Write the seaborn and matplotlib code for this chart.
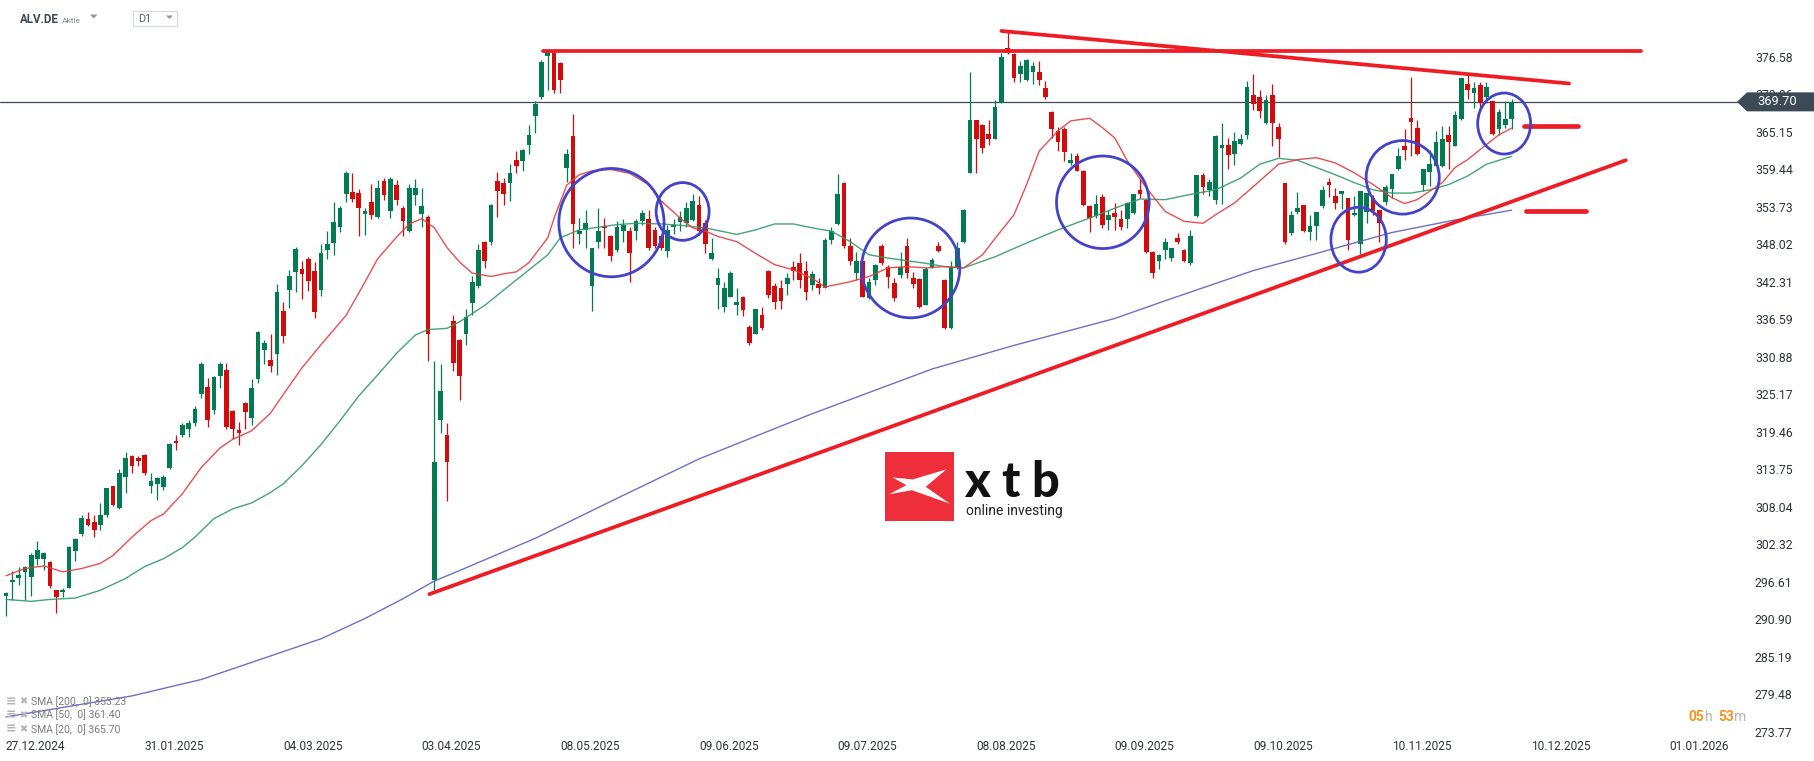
import numpy as np
import pandas as pd
import seaborn as sns
import matplotlib.pyplot as plt
from matplotlib.patches import Ellipse, Polygon, Rectangle
from matplotlib.transforms import IdentityTransform

# =============================================================================
# DATA  (ALV.DE daily candles, 27.12.2024 - 05.12.2025)
# =============================================================================
opens = [294.4, 296.5, 297.1, 298.0, 297.3, 300.0, 300.0, 299.6, 295.3, 295.0,
         295.7, 301.3, 303.8, 306.1, 305.7, 305.3, 306.8, 311.1, 307.8, 312.6,
         315.7, 315.5, 315.9, 311.2, 311.5, 311.0, 313.9, 318.1, 318.9, 319.8,
         320.7, 325.2, 326.3, 322.7, 328.0, 328.8, 322.6, 319.7, 323.8, 321.6,
         327.5, 331.9, 330.4, 331.3, 337.8, 341.0, 343.8, 344.3, 345.7, 344.0,
         341.0, 347.1, 348.2, 350.6, 355.7, 356.0, 355.8, 352.6, 354.5, 352.2,
         357.7, 353.1, 357.0, 353.6, 350.1, 355.5, 352.6, 352.2, 296.8, 321.2,
         318.9, 336.3, 333.4, 334.4, 339.0, 341.6, 348.3, 348.3, 357.7, 357.4,
         357.4, 360.9, 360.7, 363.2, 367.5, 370.5, 376.7, 377.2, 375.6, 359.6,
         364.5, 349.6, 350.2, 341.6, 348.3, 350.8, 349.3, 347.2, 350.1, 350.1,
         350.1, 351.5, 351.9, 350.2, 349.2, 347.0, 350.6, 351.4, 351.2, 351.7,
         354.0, 351.2, 345.7, 341.8, 338.5, 340.0, 338.8, 340.0, 335.4, 334.4,
         337.2, 344.0, 341.7, 341.4, 341.9, 344.5, 345.1, 344.0, 341.8, 342.0,
         341.4, 348.6, 351.1, 357.4, 347.7, 343.6, 345.4, 339.8, 342.6, 347.7,
         344.6, 342.1, 343.3, 347.7, 342.9, 342.7, 338.8, 344.6, 347.7, 342.6,
         335.2, 344.6, 348.4, 358.9, 366.9, 366.2, 364.8, 364.1, 369.6, 377.9,
         377.0, 374.0, 373.0, 374.2, 374.2, 371.8, 368.2, 365.3, 365.5, 360.4,
         361.4, 359.2, 353.8, 352.3, 355.2, 351.7, 352.8, 351.9, 351.9, 352.8,
         356.3, 354.8, 346.9, 345.4, 347.2, 345.9, 349.0, 347.2, 345.1, 352.3,
         358.5, 356.3, 354.7, 362.7, 363.1, 361.8, 363.3, 364.7, 370.8, 370.5,
         366.5, 370.7, 365.9, 357.3, 349.7, 352.9, 354.0, 349.9, 350.8, 353.8,
         357.5, 355.3, 355.6, 355.1, 352.4, 348.0, 352.9, 355.1, 353.2, 354.4,
         356.5, 359.4, 362.9, 367.2, 365.7, 357.1, 359.0, 360.0, 360.0, 364.6,
         362.9, 367.1, 372.4, 371.0, 372.3, 370.4, 369.8, 365.6, 366.2, 367.1]
highs = [295.0, 298.2, 298.9, 299.0, 301.0, 302.8, 301.1, 299.8, 295.4, 295.6,
         302.0, 303.2, 306.8, 307.2, 306.8, 308.6, 310.9, 311.2, 313.7, 316.3,
         315.9, 315.8, 316.0, 313.2, 312.5, 312.9, 317.7, 319.0, 320.7, 321.2,
         323.4, 330.1, 327.6, 328.0, 330.0, 329.9, 322.8, 320.9, 324.0, 327.5,
         334.8, 333.4, 334.4, 341.9, 339.2, 344.1, 347.6, 345.5, 346.0, 345.3,
         348.1, 350.0, 354.5, 353.8, 359.1, 358.9, 356.4, 353.6, 357.2, 357.8,
         358.1, 358.2, 357.8, 353.8, 357.2, 357.9, 356.6, 352.4, 330.2, 329.7,
         320.8, 337.2, 333.6, 338.2, 343.1, 348.0, 348.5, 354.2, 359.0, 358.1,
         360.2, 362.2, 362.5, 366.1, 369.8, 376.1, 377.6, 377.3, 375.7, 362.5,
         367.9, 352.0, 353.3, 347.5, 353.5, 352.0, 349.4, 351.5, 351.8, 350.7,
         351.8, 353.2, 353.3, 350.7, 349.3, 351.0, 351.8, 353.0, 354.5, 355.6,
         355.3, 351.7, 349.0, 344.4, 342.3, 343.9, 341.3, 340.1, 335.7, 338.2,
         338.5, 344.1, 342.1, 342.6, 343.6, 345.4, 346.7, 345.4, 343.9, 342.8,
         349.0, 350.7, 358.7, 357.5, 349.0, 346.9, 345.5, 342.8, 345.0, 348.0,
         344.9, 342.8, 346.8, 348.9, 343.8, 342.9, 344.6, 345.9, 348.3, 342.7,
         345.5, 348.4, 353.4, 374.2, 367.0, 366.3, 366.9, 370.0, 377.2, 380.6,
         377.1, 376.0, 376.3, 375.7, 375.9, 372.9, 368.3, 365.8, 365.8, 361.9,
         361.9, 359.3, 354.0, 355.5, 355.6, 353.3, 354.3, 353.3, 354.4, 355.7,
         357.9, 354.9, 347.0, 346.5, 348.9, 347.5, 349.7, 347.3, 350.2, 358.6,
         358.9, 357.9, 364.6, 366.5, 364.2, 365.1, 364.8, 372.9, 373.9, 371.5,
         370.8, 372.4, 366.5, 357.3, 353.0, 355.9, 354.0, 352.4, 352.9, 356.9,
         358.1, 356.6, 356.1, 355.1, 355.3, 356.1, 355.8, 355.5, 353.3, 357.0,
         358.7, 362.7, 365.6, 373.5, 367.0, 359.5, 362.4, 365.2, 366.0, 366.0,
         368.3, 373.4, 373.8, 372.7, 372.8, 372.8, 369.8, 368.6, 369.8, 370.1]
lows = [291.3, 293.8, 296.1, 293.8, 294.4, 299.2, 298.4, 295.7, 291.9, 294.2,
        295.6, 299.8, 303.6, 305.1, 303.4, 304.4, 306.4, 308.1, 307.7, 310.1,
        313.1, 314.2, 312.9, 310.1, 309.0, 310.6, 313.8, 316.6, 318.6, 318.7,
        320.3, 324.6, 320.2, 322.2, 326.1, 319.8, 318.4, 317.4, 319.9, 320.4,
        326.8, 329.8, 328.6, 328.1, 332.9, 338.3, 340.8, 339.7, 340.9, 336.7,
        340.1, 345.7, 346.3, 349.8, 354.4, 354.5, 349.3, 349.4, 351.9, 352.0,
        354.7, 352.0, 354.0, 349.3, 349.9, 354.0, 350.6, 330.2, 295.3, 319.3,
        308.9, 328.7, 324.3, 332.7, 337.2, 341.3, 344.4, 347.9, 352.2, 354.0,
        354.6, 358.9, 359.2, 361.7, 364.9, 370.2, 371.5, 371.1, 371.0, 357.5,
        347.4, 348.0, 347.4, 337.8, 347.5, 347.5, 345.5, 346.9, 348.4, 342.2,
        348.7, 351.0, 347.2, 347.4, 347.2, 346.0, 349.5, 350.0, 350.6, 351.6,
        349.4, 346.6, 345.6, 338.2, 337.7, 340.0, 337.2, 337.1, 332.6, 334.4,
        335.0, 339.8, 338.2, 338.2, 340.3, 342.6, 341.4, 339.5, 341.0, 340.5,
        341.4, 348.0, 351.0, 347.4, 344.9, 342.6, 339.9, 339.7, 341.8, 344.8,
        341.3, 339.3, 342.8, 342.9, 341.3, 338.3, 338.7, 344.4, 346.9, 335.1,
        335.1, 344.3, 348.2, 358.8, 358.9, 361.9, 363.1, 364.0, 369.5, 377.0,
        372.7, 372.7, 372.9, 372.4, 372.3, 370.1, 364.2, 362.2, 360.7, 360.1,
        359.1, 353.8, 349.9, 352.0, 350.5, 350.2, 350.2, 350.2, 350.5, 352.6,
        355.1, 346.6, 342.8, 344.3, 345.8, 345.4, 348.1, 345.3, 344.9, 352.2,
        355.6, 355.3, 354.2, 354.2, 359.4, 360.1, 363.2, 364.1, 368.5, 367.2,
        366.4, 363.0, 361.3, 348.1, 349.4, 352.6, 349.9, 348.6, 348.6, 353.6,
        355.2, 353.4, 353.4, 347.2, 352.3, 346.5, 351.3, 352.5, 348.4, 354.0,
        355.1, 359.3, 360.9, 361.4, 361.6, 356.1, 356.9, 359.9, 359.7, 359.4,
        362.9, 367.0, 370.1, 368.8, 368.5, 369.5, 364.7, 364.7, 365.7, 365.6]
closes = [294.8, 296.9, 297.6, 298.9, 300.7, 301.5, 300.9, 296.0, 294.3, 295.4,
          301.9, 303.1, 306.3, 305.3, 304.4, 306.8, 310.8, 308.3, 313.2, 315.4,
          314.2, 315.0, 313.2, 311.9, 312.4, 312.6, 317.6, 317.7, 320.4, 320.7,
          322.9, 329.8, 321.3, 327.8, 329.8, 320.2, 319.8, 319.3, 322.5, 326.1,
          334.6, 332.9, 329.4, 340.8, 334.0, 343.1, 347.3, 343.4, 342.4, 337.7,
          346.7, 348.1, 351.4, 353.6, 358.9, 354.9, 353.6, 353.0, 352.4, 356.6,
          355.5, 357.9, 354.7, 351.6, 356.6, 356.6, 353.9, 334.4, 314.9, 325.6,
          314.9, 329.9, 328.0, 336.9, 342.3, 347.1, 345.5, 354.0, 356.1, 355.7,
          358.9, 359.9, 362.3, 364.7, 369.3, 375.7, 377.5, 371.5, 373.0, 361.7,
          351.1, 350.0, 351.2, 347.5, 350.1, 350.5, 346.2, 350.7, 351.0, 346.6,
          351.5, 352.8, 347.5, 347.7, 347.4, 350.2, 351.0, 352.2, 353.6, 354.6,
          350.1, 348.1, 346.6, 342.8, 341.3, 343.7, 339.2, 338.0, 332.9, 338.1,
          335.3, 340.3, 339.2, 339.4, 342.8, 343.9, 342.6, 340.8, 343.5, 341.4,
          348.7, 350.1, 355.6, 347.7, 345.5, 345.5, 340.0, 342.3, 344.9, 345.1,
          343.0, 339.8, 344.6, 343.6, 342.0, 338.5, 344.2, 345.6, 347.0, 335.2,
          344.6, 347.4, 353.3, 366.9, 364.1, 362.7, 364.0, 368.9, 376.5, 377.2,
          373.3, 375.1, 376.1, 375.2, 373.0, 370.5, 365.5, 363.6, 362.1, 360.9,
          359.2, 354.0, 352.0, 354.1, 350.9, 352.5, 352.1, 350.7, 354.3, 355.6,
          355.6, 346.9, 343.7, 346.4, 348.4, 347.4, 348.4, 345.4, 349.2, 358.5,
          356.7, 357.5, 364.5, 363.1, 361.6, 363.8, 364.0, 372.0, 369.3, 368.3,
          370.0, 366.5, 364.1, 348.3, 352.5, 353.6, 350.1, 350.8, 352.9, 356.2,
          357.0, 354.3, 356.1, 348.6, 352.8, 356.1, 355.8, 353.1, 351.2, 356.8,
          358.7, 361.4, 362.3, 366.7, 361.7, 359.4, 360.3, 363.6, 364.1, 363.6,
          367.7, 373.3, 371.5, 371.8, 369.5, 371.9, 364.8, 368.2, 367.1, 369.7]

# moving averages (candle index, value)
sma20_x = [0, 3, 6, 9, 12, 15, 17, 20, 23, 25, 28, 31, 34, 36, 39, 42, 44, 47, 50, 54,
           57, 59, 62, 64, 66, 68, 70, 72, 74, 77, 79, 81, 83, 86, 87, 89, 91, 93, 96, 99,
           102, 104, 107, 109, 111, 113, 116, 119, 122, 125, 128, 130, 134, 137, 140, 143,
           146, 149, 152, 155, 157, 160, 162, 164, 167, 169, 172, 174, 176, 178, 181, 184,
           187, 190, 192, 195, 198, 202, 205, 208, 211, 214, 217, 220, 222, 224, 226, 228,
           230, 232, 235, 237, 239]
sma20_v = [297.5, 298.6, 299.0, 298.1, 298.6, 299.4, 300.6, 303.4, 305.9, 306.9,
           310.0, 314.0, 317.0, 318.3, 319.6, 322.3, 325.1, 329.2, 332.7, 337.2,
           342.3, 345.8, 349.1, 351.1, 351.9, 350.5, 347.5, 345.3, 343.6, 343.1,
           343.5, 343.8, 345.2, 349.0, 352.0, 357.0, 358.6, 359.2, 359.4, 358.8,
           357.1, 354.6, 352.0, 350.5, 350.0, 349.2, 348.4, 346.6, 344.9, 344.1,
           342.8, 341.5, 342.3, 343.1, 344.4, 344.6, 344.4, 344.6, 344.4, 346.4,
           348.9, 352.5, 357.1, 362.2, 365.3, 366.8, 367.2, 365.8, 364.2, 360.7,
           356.6, 353.0, 351.5, 351.2, 352.5, 354.3, 356.8, 360.2, 360.9, 361.2,
           360.4, 358.9, 357.1, 355.1, 354.2, 354.8, 356.1, 357.4, 359.7, 360.9,
           363.2, 364.7, 365.7]
sma50_x = [0, 4, 7, 11, 13, 15, 19, 22, 25, 28, 30, 33, 36, 39, 42, 44, 47, 50, 53, 56,
           59, 62, 65, 67, 70, 72, 76, 80, 83, 86, 88, 91, 94, 97, 100, 104, 107, 111, 113,
           116, 119, 122, 125, 128, 131, 134, 137, 140, 143, 146, 149, 152, 157, 162, 167,
           172, 176, 180, 184, 188, 192, 196, 199, 202, 205, 208, 211, 214, 217, 220, 223,
           226, 229, 232, 235, 239]
sma50_v = [293.9, 293.6, 293.9, 294.1, 294.7, 295.3, 297.1, 298.9, 300.1, 301.8,
           303.4, 306.2, 307.7, 308.6, 310.2, 311.5, 314.3, 317.5, 321.1, 324.9,
           328.1, 331.4, 334.2, 335.0, 335.2, 336.2, 338.7, 341.8, 344.1, 346.4,
           349.0, 350.2, 350.6, 351.0, 351.2, 351.1, 350.9, 350.5, 350.1, 349.5,
           350.2, 351.1, 351.1, 350.5, 350.0, 348.4, 346.4, 345.9, 345.5, 345.1,
           344.6, 344.4, 346.1, 348.2, 350.2, 352.0, 353.5, 354.9, 354.8, 355.6,
           356.3, 358.1, 360.2, 361.1, 360.8, 359.7, 358.6, 357.4, 356.3, 355.8,
           355.8, 356.3, 357.1, 358.4, 360.2, 361.4]
sma200_x = [0, 20, 31, 50, 57, 63, 68, 72, 84, 97, 110, 123, 128, 147, 160, 176, 184,
            198, 208, 220, 230, 239]
sma200_v = [276.0, 279.2, 281.7, 287.9, 291.0, 294.0, 296.7, 298.3, 303.2, 309.3,
            315.3, 320.3, 322.2, 329.0, 332.6, 336.7, 339.4, 344.0, 346.6, 349.8,
            351.7, 353.2]

# drawn analysis: trend lines (x0, y0, x1, y1) and marked areas
resistance = [85.2, 377.45, 259.5, 377.45]
falling = [158.0, 380.5, 248.1, 372.5]
rising = [67.2, 294.7, 257.1, 360.8]
level_up = [241.0, 366.0, 249.5, 366.0]
level_dn = [241.3, 353.1, 250.8, 353.1]
circle_x = [96.1, 107.4, 143.6, 174.1, 214.7, 221.7, 237.8]
circle_y = [351.3, 353.0, 344.4, 354.4, 348.7, 358.2, 366.4]
circle_w = [16.7, 8.4, 15.6, 14.7, 8.8, 11.6, 8.4]
circle_h = [16.5, 8.8, 15.2, 14.1, 9.9, 11.2, 9.3]

last_price = 369.70
y_ticks = [376.58, 370.86, 365.15, 359.44, 353.73, 348.02, 342.31, 336.59, 330.88,
           325.17, 319.46, 313.75, 308.04, 302.32, 296.61, 290.90, 285.19, 279.48, 273.77]
date_pos = [0, 22, 44, 66, 88, 110, 132, 154, 176, 198, 220, 242, 264]
date_labels = ['27.12.2024', '31.01.2025', '04.03.2025', '03.04.2025', '08.05.2025',
               '09.06.2025', '09.07.2025', '08.08.2025', '09.09.2025', '09.10.2025',
               '10.11.2025', '10.12.2025', '01.01.2026']
legend_rows = ['SMA [200,  0] 353.23', 'SMA [50,  0] 361.40', 'SMA [20,  0] 365.70']

# =============================================================================
# PLOT
# =============================================================================
W, H = 1815, 761
GREEN, RED = '#037b52', '#d30b0b'
LINE_RED = '#ee1d25'
CIRCLE = '#4343c9'

sns.set_theme(style='white')
plt.rcParams['font.family'] = ['Roboto', 'DejaVu Sans']

fig = plt.figure(figsize=(W / 100, H / 100), dpi=100)
ax = fig.add_axes([0, 1 - 738 / H, 1745 / W, 738 / H])
ax.set_facecolor('white')

df = pd.DataFrame({'open': opens, 'high': highs, 'low': lows, 'close': closes})
df['x'] = np.arange(len(df))
up = df['close'] >= df['open']
cols = np.where(up, GREEN, RED)

ax.axhline(last_price, color='#3d4954', lw=0.9, zorder=1)

ax.vlines(df['x'], df['low'], df['high'], colors=cols, lw=0.9, zorder=2)
body_lo = df[['open', 'close']].min(axis=1)
body_h = (df['close'] - df['open']).abs().clip(lower=0.2)
ax.bar(df['x'], body_h, bottom=body_lo, width=0.74, color=cols, linewidth=0, zorder=2)

sma = pd.concat([
    pd.DataFrame({'x': sma200_x, 'v': sma200_v, 'line': 'SMA200'}),
    pd.DataFrame({'x': sma50_x, 'v': sma50_v, 'line': 'SMA50'}),
    pd.DataFrame({'x': sma20_x, 'v': sma20_v, 'line': 'SMA20'}),
])
sns.lineplot(data=sma, x='x', y='v', hue='line', estimator=None, sort=False,
             palette={'SMA200': '#5d61bd', 'SMA50': '#2f9a6c', 'SMA20': '#e63c3c'},
             lw=1.0, legend=False, ax=ax)
for ln in ax.lines[1:]:
    ln.set_zorder(3)
    ln.set_alpha(0.9)

for seg in [resistance, falling, rising]:
    ax.plot([seg[0], seg[2]], [seg[1], seg[3]], color=LINE_RED, lw=2.7,
            solid_capstyle='round', zorder=5)
for seg in [level_up, level_dn]:
    ax.plot([seg[0], seg[2]], [seg[1], seg[3]], color=LINE_RED, lw=3.4,
            solid_capstyle='round', zorder=5)

for cx, cy, w, h in zip(circle_x, circle_y, circle_w, circle_h):
    ax.add_patch(Ellipse((cx, cy), w, h, fill=False, ec=CIRCLE, lw=2.0, zorder=6))

x_step = 6.3
ax.set_xlim(-6 / x_step, (1745 - 6) / x_step)
ax.set_ylim(376.58 - (738 - 56.7) * 0.15235, 376.58 + 56.7 * 0.15235)

ax.yaxis.tick_right()
ax.set_yticks(y_ticks)
ax.set_yticklabels(['%.2f' % v for v in y_ticks])
ax.tick_params(axis='y', length=0, pad=7.2, labelsize=8.8, labelcolor='#2e3338')
ax.set_xticks(date_pos)
ax.set_xticklabels(date_labels, ha='left')
ax.tick_params(axis='x', length=0, pad=1.5, labelsize=8.6, labelcolor='#2e3338')
ax.set_xlabel('')
ax.set_ylabel('')
ax.grid(False)
for s in ax.spines.values():
    s.set_visible(False)


def fx(x):
    return x / W


def fy(y):
    return 1 - y / H


# last price tag
yc = ax.transData.transform((0, last_price))[1]
tag = Polygon([(1737, yc), (1747, yc + 9.5), (1815, yc + 9.5), (1815, yc - 9.5),
               (1747, yc - 9.5)], closed=True, fc='#3c4a55', ec='none',
              transform=IdentityTransform(), zorder=10)
fig.add_artist(tag)
fig.text(1757 / W, yc / H, '%.2f' % last_price, color='white', fontsize=9.3,
         va='center', ha='left', zorder=11)

# header
fig.text(fx(20), fy(22.7), 'ALV.DE', fontsize=8.3, fontweight='bold', color='#3b4852')
fig.text(fx(62), fy(22.7), 'Aktie', fontsize=6.0, color='#7e8891')
fig.add_artist(Polygon([(fx(90), fy(14.5)), (fx(97.5), fy(14.5)), (fx(93.7), fy(18.5))],
                       closed=True, fc='#8d969e', ec='none', transform=fig.transFigure))
fig.add_artist(Rectangle((fx(133), fy(25.7)), 44 / W, 15 / H, fc='white', ec='#d6dadd',
                         lw=0.8, transform=fig.transFigure))
fig.text(fx(138), fy(22.5), 'D1', fontsize=7.8, color='#56606a')
fig.add_artist(Polygon([(fx(166), fy(15.5)), (fx(173), fy(15.5)), (fx(169.5), fy(19))],
                       closed=True, fc='#8d969e', ec='none', transform=fig.transFigure))

# indicator legend
for row, yy in zip(legend_rows, [701.7, 715.0, 729.3]):
    fig.text(fx(5.5), fy(yy), '≡', fontsize=9, color='#b3b3b3', va='center',
             family=['DejaVu Sans'], fontweight='bold')
    fig.text(fx(19.5), fy(yy), '✖', fontsize=7, color='#b3b3b3', va='center',
             family=['DejaVu Sans'])
    fig.text(fx(31), fy(yy), row, fontsize=7.5, color='#7b7b7b', va='center')

# candle timer
for txt, xx, c, wgt in [('05', 1688, '#f7941d', 'bold'), ('h', 1705, '#b5b5b5', 'normal'),
                        ('53', 1718, '#f7941d', 'bold'), ('m', 1734, '#b5b5b5', 'normal')]:
    fig.text(fx(xx), fy(721), txt, fontsize=10, color=c, fontweight=wgt)

# xtb logo
fig.add_artist(Rectangle((fx(885), fy(520.5)), 69 / W, 69 / H, fc='#ee2f3b', ec='none',
                         transform=fig.transFigure))
shape = [(0.11, 0.624), (0.40, 0.595), (0.89, 0.741), (0.59, 0.488), (0.94, 0.244),
         (0.39, 0.439), (0.06, 0.380), (0.31, 0.512)]
fig.add_artist(Polygon([(fx(885 + 69 * sx), fy(520.5 - 69 * sy)) for sx, sy in shape],
                       closed=True, fc='white', ec='none', transform=fig.transFigure))
for ch, xx in [('x', 964.5), ('t', 1001), ('b', 1031)]:
    fig.text(fx(xx), fy(497), ch, fontsize=35, fontweight='black', color='#111111',
             family=['Lato', 'Roboto', 'DejaVu Sans'])
fig.text(fx(966.5), fy(515.5), 'online investing', fontsize=10, color='#222222')

fig.savefig('out.png', dpi=100)
